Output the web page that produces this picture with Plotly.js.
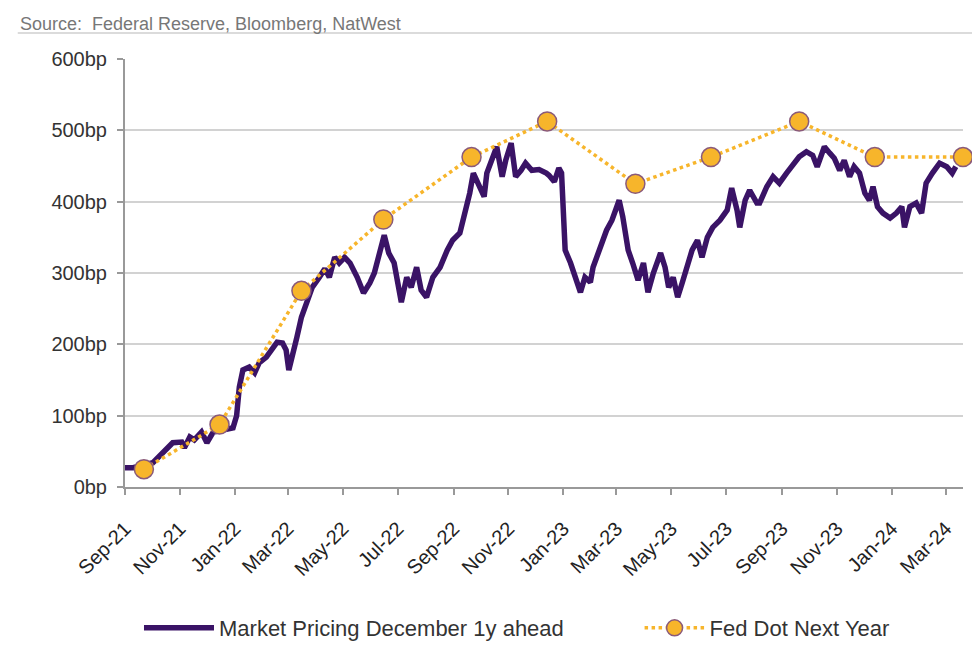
<!DOCTYPE html>
<html>
<head>
<meta charset="utf-8">
<script src="https://cdn.plot.ly/plotly-3.0.1.min.js"></script>
<style>html,body{margin:0;padding:0;background:#fff;}#chart{width:972px;height:659px;}</style>
</head>
<body>
<div id="chart"></div>
<script>
// Market pricing (December, 1y ahead), bp
const marketDates = [
 "2021-09-01","2021-09-10","2021-10-02","2021-10-13","2021-10-24","2021-11-03","2021-11-06","2021-11-12","2021-11-17","2021-11-25",
 "2021-12-01","2021-12-08","2021-12-19","2021-12-30","2022-01-03","2022-01-06","2022-01-10","2022-01-17","2022-01-23","2022-01-28",
 "2022-02-05","2022-02-12","2022-02-17","2022-02-23","2022-02-27","2022-03-02","2022-03-06","2022-03-11","2022-03-16","2022-03-22",
 "2022-03-28","2022-04-05","2022-04-11","2022-04-16","2022-04-22","2022-04-27","2022-05-03","2022-05-09","2022-05-17","2022-05-24",
 "2022-05-31","2022-06-05","2022-06-10","2022-06-16","2022-06-21","2022-06-27","2022-07-05","2022-07-11","2022-07-16","2022-07-22",
 "2022-07-27","2022-08-02","2022-08-09","2022-08-17","2022-08-25","2022-08-31","2022-09-08","2022-09-13","2022-09-19","2022-09-23",
 "2022-09-30","2022-10-05","2022-10-08","2022-10-14","2022-10-19","2022-10-25","2022-10-29","2022-11-04","2022-11-09","2022-11-15",
 "2022-11-20","2022-11-27","2022-12-05","2022-12-13","2022-12-16","2022-12-22","2022-12-27","2022-12-30","2023-01-03","2023-01-09",
 "2023-01-16","2023-01-20","2023-01-25","2023-01-31","2023-02-03","2023-02-10","2023-02-18","2023-02-24","2023-03-04","2023-03-08",
 "2023-03-14","2023-03-19","2023-03-25","2023-03-31","2023-04-05","2023-04-11","2023-04-19","2023-04-24","2023-04-28","2023-05-03",
 "2023-05-08","2023-05-13","2023-05-19","2023-05-24","2023-05-30","2023-06-04","2023-06-10","2023-06-16","2023-06-24","2023-07-02",
 "2023-07-07","2023-07-13","2023-07-16","2023-07-22","2023-07-27","2023-08-04","2023-08-07","2023-08-15","2023-08-22","2023-08-29",
 "2023-09-06","2023-09-12","2023-09-20","2023-09-28","2023-10-05","2023-10-10","2023-10-18","2023-10-24","2023-10-29","2023-11-04",
 "2023-11-09","2023-11-15","2023-11-20","2023-11-26","2023-12-02","2023-12-07","2023-12-11","2023-12-16","2023-12-22","2023-12-30",
 "2024-01-06","2024-01-12","2024-01-15","2024-01-21","2024-01-28","2024-02-03","2024-02-08","2024-02-15","2024-02-23","2024-03-02",
 "2024-03-08","2024-03-12"
];
const marketValues = [
 27,27,34,48,62,63,55,70,66,77,
 62,77,80,83,100,140,164,168,160,174,
 182,196,203,202,192,164,188,210,238,262,
 280,294,306,294,322,314,322,314,294,272,
 286,300,328,353,328,314,259,294,280,308,
 276,266,294,308,332,346,356,379,412,440,
 421,407,440,458,477,435,458,482,435,444,
 454,444,445,440,437,428,447,440,332,314,
 286,273,294,287,308,332,360,374,402,379,
 332,314,290,314,273,300,328,308,280,294,
 266,286,308,332,346,322,350,364,374,388,
 419,388,364,402,416,398,398,421,435,426,
 440,449,463,470,465,449,477,468,461,444,
 458,435,449,440,412,402,421,393,384,377,
 384,393,364,393,398,384,426,440,454,449,
 440,449
];
// Fed dot median for next year, bp
const fedDates = ["2021-09-22","2021-12-15","2022-03-16","2022-06-15","2022-09-21","2022-12-14","2023-03-22","2023-06-14","2023-09-20","2023-12-13","2024-03-20"];
const fedValues = [25,87.5,275,375,462.5,512.5,425,462.5,512.5,462.5,462.5];
const yTicks = [0,100,200,300,400,500,600];
const yTickText = ["0bp","100bp","200bp","300bp","400bp","500bp","600bp"];

const purple = "#3a1366";
const gold = "#f7b52b";

const traces = [
  {
    x: marketDates, y: marketValues, type: "scatter", mode: "lines",
    name: "Market Pricing December 1y ahead", legend: "legend",
    line: {color: purple, width: 5.5}
  },
  {
    x: fedDates, y: fedValues, type: "scatter", mode: "lines+markers",
    name: "Fed Dot Next Year", cliponaxis: false, legend: "legend2",
    line: {color: gold, width: 3.5, dash: "dot"},
    marker: {color: gold, size: 19, line: {color: "#8a5a7a", width: 1.5}}
  }
];

const legendFont = {size: 22, color: "#333"};

const layout = {
  width: 972, height: 659,
  margin: {l: 125, r: 9, t: 59, b: 172},
  paper_bgcolor: "#fff", plot_bgcolor: "#fff",
  font: {family: "Liberation Sans, Arial, sans-serif", color: "#222"},
  showlegend: true,
  legend: {
    orientation: "h", xref: "container", yref: "container",
    x: 0.143, xanchor: "left", y: 0.047, yanchor: "middle",
    font: legendFont, itemwidth: 70
  },
  legend2: {
    orientation: "h", xref: "container", yref: "container",
    x: 0.658, xanchor: "left", y: 0.047, yanchor: "middle",
    font: legendFont, itemwidth: 60
  },
  xaxis: {
    type: "date", range: ["2021-09-01", "2024-03-20"],
    tick0: "2021-09-01", dtick: "M2", tickformat: "%b-%y", tickangle: -45,
    ticks: "outside", ticklen: 6, tickcolor: "#999", tickwidth: 2,
    showline: true, linecolor: "#999", linewidth: 2,
    showgrid: false, zeroline: false, ticklabelstandoff: 14,
    tickfont: {size: 20, color: "#222"}
  },
  yaxis: {
    range: [0, 600], tickvals: yTicks, ticktext: yTickText,
    ticks: "outside", ticklen: 6, tickcolor: "#999", tickwidth: 2,
    showline: true, linecolor: "#999", linewidth: 2,
    showgrid: true, gridcolor: "#d2d2d2", gridwidth: 2, zeroline: false,
    tickfont: {size: 20, color: "#333"}, ticklabelstandoff: 6
  },
  annotations: [{
    xref: "paper", yref: "paper", x: -0.128, y: 1.082, xanchor: "left", yanchor: "middle",
    text: "Source:  Federal Reserve, Bloomberg, NatWest", showarrow: false,
    font: {size: 18, color: "#777"}
  }],
  shapes: [{
    type: "line", xref: "paper", yref: "paper", x0: -0.128, x1: 1.011, y0: 1.061, y1: 1.061,
    line: {color: "#cfcfcf", width: 1.5}
  }]
};

Plotly.newPlot("chart", traces, layout, {displayModeBar: false, staticPlot: true});
</script>
</body>
</html>
